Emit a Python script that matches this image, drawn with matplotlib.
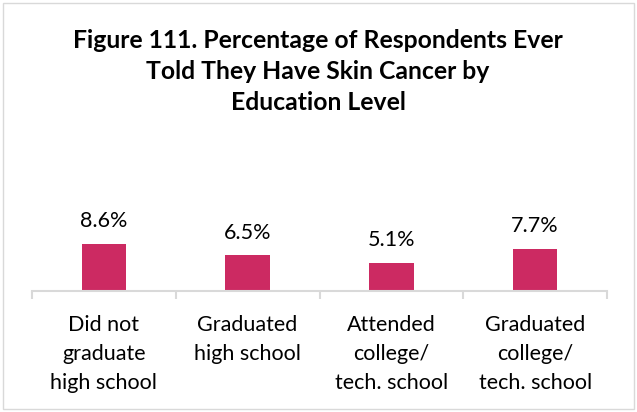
import matplotlib
matplotlib.use("Agg")
import matplotlib.pyplot as plt
from matplotlib.patches import Rectangle

categories = ["Did not\ngraduate\nhigh school", "Graduated\nhigh school",
              "Attended\ncollege/\ntech. school", "Graduated\ncollege/\ntech. school"]
values = [8.6, 6.5, 5.1, 7.7]
value_labels = ["8.6%", "6.5%", "5.1%", "7.7%"]
title = "Figure 111. Percentage of Respondents Ever\nTold They Have Skin Cancer by\nEducation Level"

plt.rcParams['font.family'] = ['Lato', 'DejaVu Sans']

W, H = 637, 412
fig = plt.figure(figsize=(W/100, H/100), dpi=100)
fig.patch.set_facecolor('white')
fig.add_artist(Rectangle((3/W, 3/H), (W-6)/W, (H-6)/H, transform=fig.transFigure,
                         fill=False, edgecolor='#d9d9d9', linewidth=1))

left, right, base = 32, 607, 291
ymax = 20
pxper = 5.47
ax = fig.add_axes([left/W, 1-base/H, (right-left)/W, ymax*pxper/H])
x = list(range(len(values)))
ax.bar(x, values, width=0.31, color='#CC2A62')
ax.set_xlim(-0.5, len(values)-0.5)
ax.set_ylim(0, ymax)
for s in ['top', 'right', 'left']:
    ax.spines[s].set_visible(False)
ax.spines['bottom'].set_color('#d9d9d9')
ax.spines['bottom'].set_linewidth(1.5)
ax.set_yticks([])
ax.set_xticks([i - 0.5 for i in range(len(values)+1)], minor=False)
ax.set_xticklabels([])
ax.tick_params(axis='x', length=6, width=1.5, color='#d9d9d9')
ax.set_facecolor('none')

for i, (v, lab) in enumerate(zip(values, value_labels)):
    ax.annotate(lab, (i, v), xytext=(0, 12.2), textcoords='offset points',
                ha='center', va='baseline', fontsize=15.5, color='#000000')
    ax.annotate(categories[i], (i, 0), xytext=(0, -17.3), textcoords='offset points',
                ha='center', va='top', fontsize=15.5, color='#000000', linespacing=1.57)

fig.text(318/W, 1-29/H, title, ha='center', va='top', fontsize=17.8, fontweight='bold',
         linespacing=1.43)

fig.savefig("out.png", dpi=100)
